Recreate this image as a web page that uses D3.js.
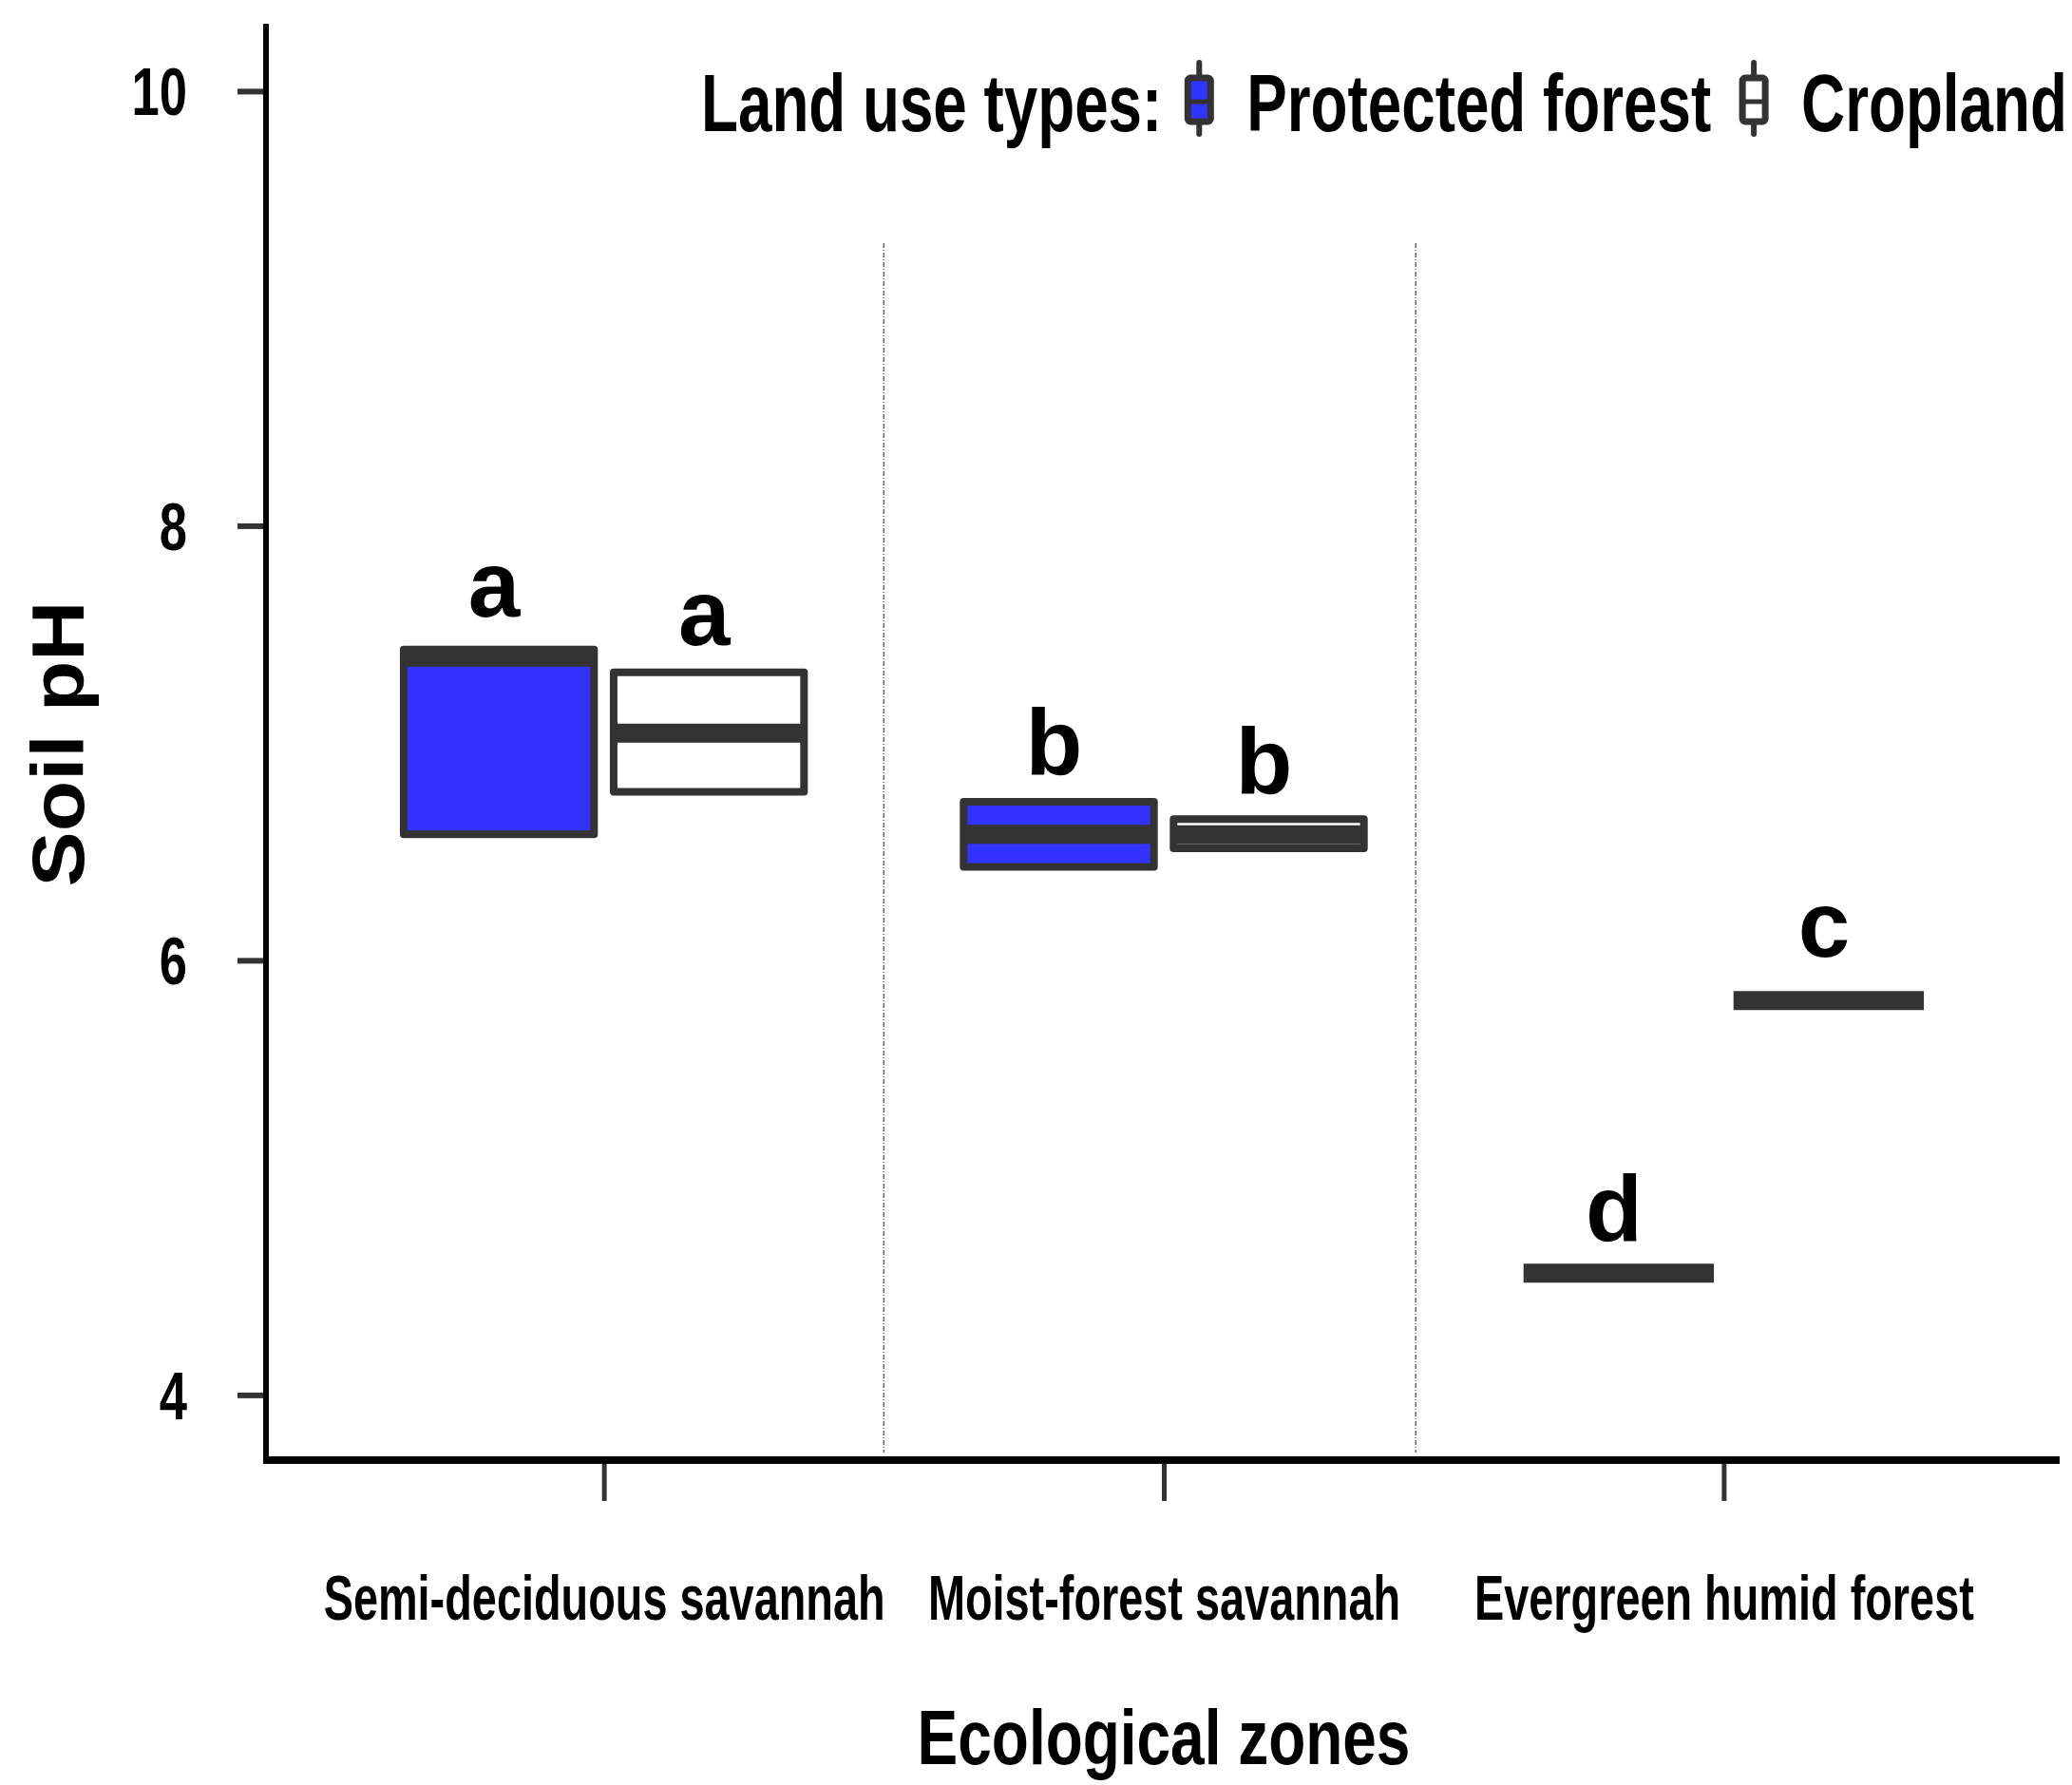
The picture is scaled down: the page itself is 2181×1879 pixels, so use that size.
<!DOCTYPE html>
<html>
<head>
<meta charset="utf-8">
<script src="https://cdn.jsdelivr.net/npm/d3@7"></script>
<style>
  body { margin: 0; background: #fff; }
  text { font-family: "Liberation Sans", Arial, sans-serif; font-weight: bold; }
</style>
</head>
<body>
<script>
// Soil pH by ecological zone and land use (boxplot)
const zones = ['Semi-deciduous savannah', 'Moist-forest savannah', 'Evergreen humid forest'];
const landUses = ['Protected forest', 'Cropland'];

const protectedQ1 = [6.58, 6.43, 4.56];
const protectedMedian = [7.395, 6.58, 4.56];
const protectedQ3 = [7.43, 6.73, 4.56];

const croplandQ1 = [6.775, 6.515, 5.815];
const croplandMedian = [7.045, 6.578, 5.815];
const croplandQ3 = [7.325, 6.65, 5.815];

const protectedLetters = ['a', 'b', 'd'];
const croplandLetters = ['a', 'b', 'c'];
const protectedLetterY = [7.58, 6.855, 4.71];
const croplandLetterY = [7.45, 6.77, 6.015];

const yTicks = [4, 6, 8, 10];
const dividers = [1.5, 2.45];   // zone-index positions of the dotted separators

const W = 2181, H = 1879;
const plotLeft = 282, plotRight = 2168, plotTop = 25, plotBottom = 1537;
const dark = '#333333';
const blue = '#3333ff';

const svg = d3.select('body').append('svg')
    .attr('width', W)
    .attr('height', H);

// scales
const x = d3.scaleLinear().domain([0.4, 3.6]).range([plotLeft, plotRight]);
const step = x(2) - x(1);
const y = d3.scaleLinear().domain([3.70, 10.31]).range([plotBottom, plotTop]);

const boxes = [];
zones.forEach((z, i) => {
    boxes.push({ zone: i + 1, type: 0, q1: protectedQ1[i], med: protectedMedian[i], q3: protectedQ3[i],
        letter: protectedLetters[i], ly: protectedLetterY[i] });
    boxes.push({ zone: i + 1, type: 1, q1: croplandQ1[i], med: croplandMedian[i], q3: croplandQ3[i],
        letter: croplandLetters[i], ly: croplandLetterY[i] });
});
const dodge = 0.1875, boxW = 0.34 * step;
const cx = d => x(d.zone) + (d.type === 0 ? -dodge : dodge) * step;

// dotted separators
svg.append('g')
    .selectAll('line')
    .data(dividers)
    .join('line')
    .attr('x1', d => x(d)).attr('x2', d => x(d))
    .attr('y1', y(9.3)).attr('y2', plotBottom - 8)
    .attr('stroke', '#666')
    .attr('stroke-width', 1.5)
    .attr('stroke-dasharray', '5,2,1,2');

// boxes
const g = svg.append('g');
g.selectAll('rect')
    .data(boxes)
    .join('rect')
    .attr('x', d => cx(d) - boxW / 2)
    .attr('width', boxW)
    .attr('y', d => y(d.q3))
    .attr('height', d => y(d.q1) - y(d.q3))
    .attr('fill', d => d.type === 0 ? blue : '#fff')
    .attr('stroke', dark)
    .attr('stroke-width', 8)
    .attr('stroke-linejoin', 'round');

g.selectAll('line.median')
    .data(boxes)
    .join('line')
    .attr('class', 'median')
    .attr('x1', d => cx(d) - boxW / 2)
    .attr('x2', d => cx(d) + boxW / 2)
    .attr('y1', d => y(d.med)).attr('y2', d => y(d.med))
    .attr('stroke', dark)
    .attr('stroke-width', 20);

// significance letters
g.selectAll('text.letter')
    .data(boxes)
    .join('text')
    .attr('class', 'letter')
    .attr('x', d => cx(d) - 5)
    .attr('y', d => y(d.ly))
    .attr('text-anchor', 'middle')
    .attr('font-size', 98)
    .attr('fill', '#000')
    .text(d => d.letter);

// y axis
const yAxis = svg.append('g')
    .attr('transform', `translate(${plotLeft - 1},0)`)
    .call(d3.axisLeft(y).tickValues(yTicks).tickSize(31).tickSizeOuter(0)
        .tickFormat(d3.format('d')));
yAxis.select('.domain').remove();
yAxis.selectAll('.tick line').attr('stroke', dark).attr('stroke-width', 6);
yAxis.selectAll('.tick text')
    .attr('x', 0).attr('dy', 0).attr('y', 25)
    .attr('text-anchor', 'end')
    .attr('font-size', 70)
    .attr('fill', '#000')
    .attr('transform', 'translate(-84,0) scale(0.75,1)');

// x axis
const xAxis = svg.append('g')
    .attr('transform', `translate(0,${plotBottom})`)
    .call(d3.axisBottom(x).tickValues([1, 2, 3]).tickSize(43).tickSizeOuter(0)
        .tickFormat(d => zones[d - 1]));
xAxis.select('.domain').remove();
xAxis.selectAll('.tick line').attr('stroke', dark).attr('stroke-width', 5);
xAxis.selectAll('.tick text')
    .attr('y', 0).attr('dy', 0)
    .attr('font-size', 66)
    .attr('fill', '#000')
    .attr('transform', 'translate(0,168) scale(0.71,1)');

// axis lines
svg.append('line')
    .attr('x1', plotLeft - 2).attr('x2', plotLeft - 2)
    .attr('y1', plotTop).attr('y2', plotBottom + 4)
    .attr('stroke', '#000').attr('stroke-width', 6);
svg.append('line')
    .attr('x1', plotLeft - 5).attr('x2', plotRight)
    .attr('y1', plotBottom).attr('y2', plotBottom)
    .attr('stroke', '#000').attr('stroke-width', 8);

// axis titles
svg.append('text')
    .attr('transform', 'translate(1225,1857) scale(0.78,1)')
    .attr('text-anchor', 'middle')
    .attr('font-size', 82)
    .text('Ecological zones');

svg.append('text')
    .attr('transform', 'translate(88,783) rotate(-90) scale(1.12,1)')
    .attr('text-anchor', 'middle')
    .attr('font-size', 78)
    .text('Soil pH');

// legend, laid out left to right
const legend = svg.append('g');
const legY = 138, legFont = 85, squeeze = 0.75;
let lx = 738;

function legendText(str) {
    const t = legend.append('text')
        .attr('transform', `translate(${lx},${legY}) scale(${squeeze},1)`)
        .attr('font-size', legFont)
        .text(str);
    lx += t.node().getComputedTextLength() * squeeze;
}

function legendKey(fill) {
    const kx = lx + 15;
    legend.append('line')
        .attr('x1', kx).attr('x2', kx)
        .attr('y1', 66).attr('y2', 141)
        .attr('stroke', dark).attr('stroke-width', 6)
        .attr('stroke-linecap', 'round');
    legend.append('rect')
        .attr('x', kx - 12).attr('y', 82)
        .attr('width', 24).attr('height', 46)
        .attr('rx', 3)
        .attr('fill', fill)
        .attr('stroke', dark).attr('stroke-width', 7);
    legend.append('line')
        .attr('x1', kx - 12).attr('x2', kx + 12)
        .attr('y1', 107).attr('y2', 107)
        .attr('stroke', dark).attr('stroke-width', 5);
    lx += 30;
}

legendText('Land use types:');
lx += 24;
legendKey(blue);
lx += 35;
legendText(landUses[0]);
lx += 30;
legendKey('#fff');
lx += 35;
legendText(landUses[1]);
</script>
</body>
</html>
